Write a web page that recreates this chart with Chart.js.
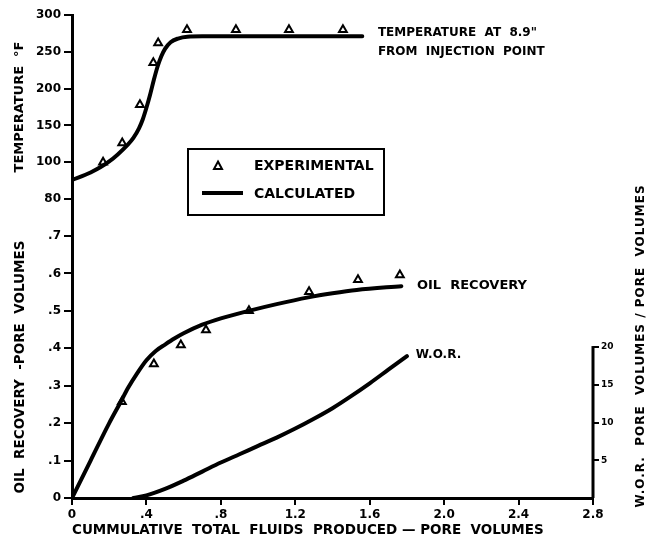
<!DOCTYPE html>
<html>
<head>
<meta charset="utf-8">
<script src="https://cdn.jsdelivr.net/npm/chart.js@4.4.1/dist/chart.umd.min.js"></script>
<style>
  html, body { margin: 0; padding: 0; background: #fff; }
  #wrap { position: relative; width: 647px; height: 547px; }
</style>
</head>
<body>
<div id="wrap"><canvas id="chart" width="647" height="547"></canvas></div>
<script>
// x: cumulative total fluids produced (pore volumes)
const xTicks = [0, 0.4, 0.8, 1.2, 1.6, 2.0, 2.4, 2.8];
const xTickLabels = ['0', '.4', '.8', '1.2', '1.6', '2.0', '2.4', '2.8'];

// temperature at 8.9" from injection point (deg F)
const tempTicks = [50, 100, 150, 200, 250, 300];
const tempTickLabels = ['80', '100', '150', '200', '250', '300'];
const tempCalcX = [0, 0.1, 0.2, 0.3, 0.33, 0.36, 0.38, 0.4, 0.42, 0.44, 0.46, 0.48, 0.5, 0.53, 0.57, 0.62, 0.7, 1.0, 1.3, 1.56];
const tempCalcY = [76, 86, 101, 124, 133, 146, 158, 174, 192, 212, 230, 244, 254, 263, 268, 270.5, 271, 271, 271, 271];
const tempExpX = [0.167, 0.27, 0.365, 0.437, 0.463, 0.618, 0.881, 1.166, 1.456];
const tempExpY = [100, 126, 178, 235, 262, 280, 280, 280, 280];

// oil recovery (pore volumes)
const oilTicks = [0, 0.1, 0.2, 0.3, 0.4, 0.5, 0.6, 0.7];
const oilTickLabels = ['0', '.1', '.2', '.3', '.4', '.5', '.6', '.7'];
const oilCalcX = [0, 0.1, 0.2, 0.26, 0.3, 0.35, 0.4, 0.45, 0.5, 0.55, 0.6, 0.7, 0.8, 0.95, 1.1, 1.27, 1.4, 1.53, 1.77];
const oilCalcY = [0, 0.1, 0.2, 0.255, 0.293, 0.333, 0.368, 0.393, 0.41, 0.426, 0.44, 0.463, 0.48, 0.5, 0.518, 0.536, 0.547, 0.556, 0.566];
const oilExpX = [0.268, 0.44, 0.585, 0.72, 0.951, 1.274, 1.537, 1.762];
const oilExpY = [0.257, 0.358, 0.409, 0.449, 0.5, 0.551, 0.583, 0.596];

// water-oil ratio
const worTicks = [5, 10, 15, 20];
const worCalcX = [0.33, 0.4, 0.5, 0.6, 0.7, 0.8, 0.9, 1.0, 1.1, 1.2, 1.3, 1.4, 1.5, 1.6, 1.7, 1.8];
const worCalcY = [0, 0.35, 1.2, 2.3, 3.5, 4.7, 5.8, 6.9, 8.0, 9.2, 10.5, 11.9, 13.5, 15.2, 17.0, 18.8];

const FONT = '"DejaVu Sans", sans-serif';
const pts = (xs, ys) => xs.map((x, i) => ({ x, y: ys[i] }));

const calcLine = (data, yAxisID) => ({
    type: 'scatter', data, yAxisID, xAxisID: 'x', showLine: true,
    borderColor: '#000', borderWidth: 4, pointRadius: 0,
    cubicInterpolationMode: 'monotone', borderCapStyle: 'round'
});
const expPoints = (data, yAxisID) => ({
    type: 'scatter', data, yAxisID, xAxisID: 'x',
    pointStyle: 'triangle', pointRadius: 4.5, borderWidth: 2,
    borderColor: '#000', backgroundColor: '#fff'
});

const grid = { display: true, drawOnChartArea: false, drawTicks: true, tickLength: 8, lineWidth: 2, color: '#000' };
const border = { display: true, width: 3, color: '#000' };
const tickFont = { family: FONT, weight: 'bold', size: 12 };
const leftFit = s => { s.width = 72; };

const extras = {
    id: 'extras',
    afterDraw(chart) {
        const { ctx, scales: { x, yT, yO, yW } } = chart;
        ctx.save();
        ctx.strokeStyle = '#000';
        ctx.fillStyle = '#000';

        // W.O.R. axis line runs only from 0 to 20
        ctx.lineWidth = 3;
        ctx.beginPath();
        ctx.moveTo(yW.left, yW.getPixelForValue(0));
        ctx.lineTo(yW.left, yW.getPixelForValue(20) - 1);
        ctx.stroke();

        // curve labels
        ctx.textBaseline = 'middle';
        ctx.textAlign = 'left';
        ctx.font = `bold 12px ${FONT}`;
        ctx.fillText('TEMPERATURE  AT  8.9"', x.getPixelForValue(1.644), yT.getPixelForValue(275.5));
        ctx.fillText('FROM  INJECTION  POINT', x.getPixelForValue(1.644), yT.getPixelForValue(250));
        ctx.fillText('W.O.R.', x.getPixelForValue(1.848), yW.getPixelForValue(18.9));
        ctx.font = `bold 13px ${FONT}`;
        ctx.fillText('OIL  RECOVERY', x.getPixelForValue(1.854), yO.getPixelForValue(0.567));

        // legend box
        ctx.lineWidth = 2;
        ctx.strokeRect(188, 149, 196, 66);
        ctx.beginPath();
        ctx.moveTo(218, 161.5);
        ctx.lineTo(222, 169);
        ctx.lineTo(214, 169);
        ctx.closePath();
        ctx.stroke();
        ctx.lineWidth = 4;
        ctx.beginPath();
        ctx.moveTo(202, 193);
        ctx.lineTo(243, 193);
        ctx.stroke();
        ctx.font = `bold 14px ${FONT}`;
        ctx.fillText('EXPERIMENTAL', 254, 166);
        ctx.fillText('CALCULATED', 254, 194);

        // right axis title
        ctx.translate(641, 346);
        ctx.rotate(-Math.PI / 2);
        ctx.textAlign = 'center';
        ctx.font = `bold 12px ${FONT}`;
        ctx.letterSpacing = '1px';
        ctx.fillText('W.O.R.  PORE  VOLUMES / PORE  VOLUMES', 0, 0);
        ctx.restore();
    }
};

new Chart(document.getElementById('chart'), {
    type: 'scatter',
    data: {
        datasets: [
            calcLine(pts(tempCalcX, tempCalcY), 'yT'),
            expPoints(pts(tempExpX, tempExpY), 'yT'),
            calcLine(pts(oilCalcX, oilCalcY), 'yO'),
            expPoints(pts(oilExpX, oilExpY), 'yO'),
            calcLine(pts(worCalcX, worCalcY), 'yW')
        ]
    },
    options: {
        responsive: false,
        animation: false,
        layout: { padding: { top: 15, left: 0, right: 0, bottom: 0 } },
        plugins: { legend: { display: false }, tooltip: { enabled: false } },
        scales: {
            x: {
                type: 'linear', position: 'bottom', min: 0, max: 2.8,
                afterBuildTicks: a => { a.ticks = xTicks.map(value => ({ value })); },
                afterFit: s => { s.height = 49; },
                ticks: { font: tickFont, color: '#000', padding: 3, maxRotation: 0, callback: (v, i) => xTickLabels[i] },
                grid: { ...grid, tickLength: 7 },
                border,
                title: { display: true, align: 'start', text: 'CUMMULATIVE  TOTAL  FLUIDS  PRODUCED — PORE  VOLUMES', color: '#000',
                    font: { family: FONT, weight: 'bold', size: 13.5 }, padding: { top: 0, bottom: 8 } }
            },
            yO: {
                type: 'linear', position: 'left', stack: 'left', stackWeight: 262, min: 0, max: 0.7,
                afterBuildTicks: a => { a.ticks = oilTicks.map(value => ({ value })); },
                afterFit: leftFit,
                ticks: { font: tickFont, color: '#000', padding: 3, callback: (v, i) => oilTickLabels[i] },
                grid, border,
                title: { display: true, text: 'OIL  RECOVERY  -PORE  VOLUMES', color: '#000',
                    font: { family: FONT, weight: 'bold', size: 13.5 }, padding: { top: 12, bottom: 0 } }
            },
            yGap: {
                type: 'linear', position: 'left', stack: 'left', stackWeight: 37, min: 0, max: 1,
                afterFit: leftFit,
                ticks: { display: false },
                grid: { display: false },
                border
            },
            yT: {
                type: 'linear', position: 'left', stack: 'left', stackWeight: 184, min: 50, max: 300,
                afterBuildTicks: a => { a.ticks = tempTicks.map(value => ({ value })); },
                afterFit: leftFit,
                ticks: { font: tickFont, color: '#000', padding: 3, callback: (v, i) => tempTickLabels[i] },
                grid, border,
                title: { display: true, text: 'TEMPERATURE  °F', color: '#000',
                    font: { family: FONT, weight: 'bold', size: 13 }, padding: { top: 12, bottom: 0 } }
            },
            yW: {
                type: 'linear', position: 'right', min: 0, max: 64,
                afterBuildTicks: a => { a.ticks = worTicks.map(value => ({ value })); },
                afterFit: s => { s.width = 54; },
                ticks: { font: { family: FONT, weight: 'bold', size: 9 }, color: '#000', padding: 2 },
                grid: { ...grid, tickLength: 6 },
                border: { display: false }
            }
        }
    },
    plugins: [extras]
});
</script>
</body>
</html>
